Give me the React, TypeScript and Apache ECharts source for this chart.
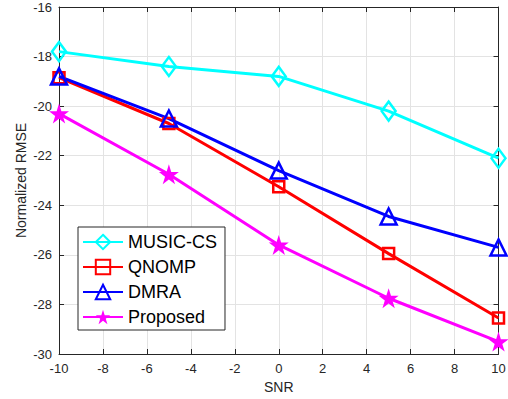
import React, { useEffect, useRef } from "react";
import * as echarts from "echarts";

// SNR sample points (dB)
const snr = [-10, -5, 0, 5, 10];

// Normalized RMSE (dB) per method
const musicCs = [-17.8, -18.4, -18.8, -20.2, -22.1];
const qnomp = [-18.85, -20.7, -23.25, -25.95, -28.55];
const dmra = [-18.8, -20.5, -22.6, -24.45, -25.7];
const proposed = [-20.3, -22.75, -25.6, -27.75, -29.5];

const seriesNames = ["MUSIC-CS", "QNOMP", "DMRA", "Proposed"];

const STAR =
  "path://M50 0 L61.23 34.55 L97.55 34.55 L68.17 55.9 L79.39 90.45 L50 69.1 L20.61 90.45 L31.83 55.9 L2.45 34.55 L38.77 34.55 Z";

const FONT = "'Liberation Sans', Arial, Helvetica, sans-serif";
const AXIS_COLOR = "#262626";
const GRID_COLOR = "#e3e3e3";

function pairs(ys: number[]) {
  return snr.map((x, i) => [x, ys[i]]);
}

function lineSeries(
  name: string,
  color: string,
  ys: number[],
  symbol: string,
  symbolSize: number | number[],
  filled: boolean
) {
  return {
    name,
    type: "line",
    data: pairs(ys),
    color,
    symbol,
    symbolSize,
    showAllSymbol: true,
    lineStyle: { color, width: 3 },
    itemStyle: filled
      ? { color, borderColor: color, borderWidth: 0 }
      : { color: "rgba(255,255,255,0)", borderColor: color, borderWidth: 2.5 },
    emphasis: { disabled: true },
    z: 3,
  };
}

export default function App() {
  const ref = useRef<HTMLDivElement>(null);

  useEffect(() => {
    if (!ref.current) return;
    const chart = echarts.init(ref.current, null, { renderer: "svg" });

    const axisLine = { show: true, onZero: false, lineStyle: { color: AXIS_COLOR, width: 1 } };
    const axisTick = { show: true, inside: true, length: 5, lineStyle: { color: AXIS_COLOR } };
    const axisLabel = { color: AXIS_COLOR, fontSize: 13, fontFamily: FONT };
    const nameTextStyle = { color: AXIS_COLOR, fontSize: 14, fontFamily: FONT };

    chart.setOption({
      animation: false,
      backgroundColor: "#ffffff",
      textStyle: { fontFamily: FONT },
      grid: {
        left: 59,
        right: 9.5,
        top: 7,
        bottom: 45,
        outerBoundsMode: "none",
        containLabel: false,
      },
      legend: {
        data: seriesNames,
        orient: "vertical",
        left: 78,
        top: 227,
        itemWidth: 40,
        itemHeight: 18,
        itemGap: 7,
        padding: [6, 8, 4, 4],
        borderColor: AXIS_COLOR,
        borderWidth: 1,
        backgroundColor: "#ffffff",
        textStyle: { fontSize: 18, color: "#000000", fontFamily: FONT },
        selectedMode: false,
      },
      xAxis: [
        {
          type: "value",
          min: -10,
          max: 10,
          interval: 2,
          position: "bottom",
          name: "SNR",
          nameLocation: "middle",
          nameGap: 26,
          nameMoveOverlap: false,
          nameTextStyle,
          axisLine,
          axisTick,
          axisLabel: { ...axisLabel, margin: 8 },
          splitLine: { show: true, lineStyle: { color: GRID_COLOR, width: 1 } },
        },
        {
          type: "value",
          min: -10,
          max: 10,
          interval: 2,
          position: "top",
          axisLine,
          axisTick,
          axisLabel: { show: false },
          splitLine: { show: false },
        },
      ],
      yAxis: [
        {
          type: "value",
          min: -30,
          max: -16,
          interval: 2,
          position: "left",
          name: "Normalized RMSE",
          nameLocation: "middle",
          nameGap: 31,
          nameMoveOverlap: false,
          nameTextStyle,
          axisLine,
          axisTick,
          axisLabel: { ...axisLabel, margin: 7 },
          splitLine: { show: true, lineStyle: { color: GRID_COLOR, width: 1 } },
        },
        {
          type: "value",
          min: -30,
          max: -16,
          interval: 2,
          position: "right",
          axisLine,
          axisTick,
          axisLabel: { show: false },
          splitLine: { show: false },
        },
      ],
      series: [
        lineSeries(seriesNames[0], "#00ffff", musicCs, "diamond", [14, 19], false),
        lineSeries(seriesNames[1], "#ff0000", qnomp, "rect", 11, false),
        lineSeries(seriesNames[2], "#0000ff", dmra, "triangle", 16, false),
        lineSeries(seriesNames[3], "#ff00ff", proposed, STAR, 20, true),
      ],
    });

    return () => chart.dispose();
  }, []);

  return (
    <div
      ref={ref}
      style={{ position: "absolute", left: 0, top: 0, width: 508, height: 399 }}
    />
  );
}
